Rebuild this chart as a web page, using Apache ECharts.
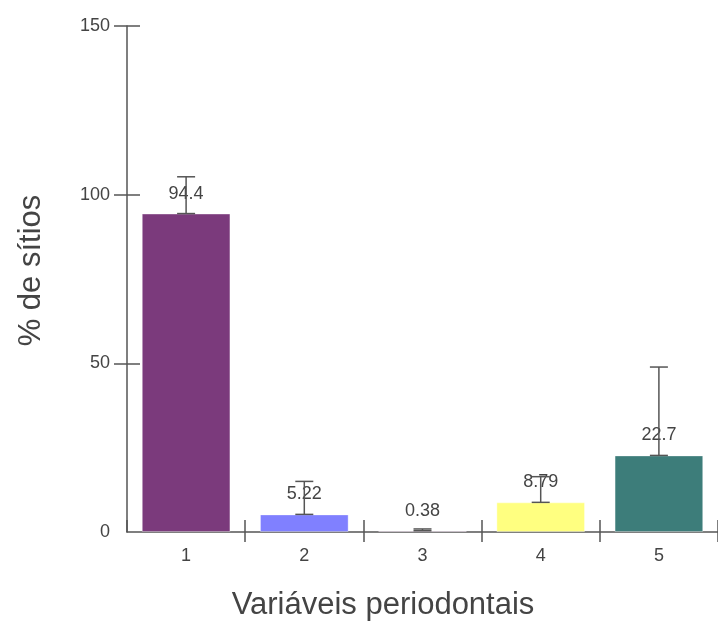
<!DOCTYPE html>
<html>
<head>
<meta charset="utf-8">
<script src="https://cdn.jsdelivr.net/npm/echarts@6/dist/echarts.min.js"></script>
<style>
  html, body { margin: 0; padding: 0; background: #fff; }
  #chart { width: 718px; height: 626px; }
</style>
</head>
<body>
<div id="chart"></div>
<script>
const categories = ['1', '2', '3', '4', '5']
const values = [94.4, 5.22, 0.38, 8.79, 22.7]
const upperErrors = [105.3, 15.0, 0.9, 16.4, 48.9]
const barColors = ['#7b3a7c', '#8080ff', '#c080c0', '#ffff80', '#3d7d7a']
const yTicks = [0, 50, 100, 150]

const FONT = '"Liberation Sans", Arial, sans-serif'
const AXIS = '#555555'
const TEXT = '#444444'

const chart = echarts.init(document.getElementById('chart'))

// ticks cross the axis line in the reference, so each axis is doubled:
// one draws the outer tick half, the other the inner half
const yBase = {
  type: 'value',
  min: yTicks[0],
  max: yTicks[yTicks.length - 1],
  interval: 50,
  splitLine: { show: false }
}
const xBase = {
  type: 'category',
  data: categories,
  boundaryGap: true
}
const tickLine = { color: AXIS, width: 1.5 }

chart.setOption({
  animation: false,
  grid: { left: 127, right: 0, top: 26, bottom: 93 },
  xAxis: [
    {
      ...xBase,
      axisLine: { lineStyle: tickLine },
      axisTick: { show: true, length: 10, lineStyle: tickLine, interval: (i) => i !== 0 },
      axisLabel: { color: TEXT, fontFamily: FONT, fontSize: 18, margin: 15 },
      name: 'Variáveis periodontais',
      nameLocation: 'middle',
      nameGap: 58,
      nameTextStyle: {
        color: TEXT, fontFamily: FONT, fontSize: 31,
        padding: [0, 79, 0, 0]
      }
    },
    {
      ...xBase,
      position: 'bottom',
      axisLine: { show: false },
      axisTick: { show: true, inside: true, length: 12, lineStyle: tickLine },
      axisLabel: { show: false }
    }
  ],
  yAxis: [
    {
      ...yBase,
      axisLine: { show: true, lineStyle: tickLine },
      axisTick: { show: true, length: 13, lineStyle: tickLine, customValues: yTicks.slice(1) },
      axisLabel: { color: TEXT, fontFamily: FONT, fontSize: 18, margin: 17 },
      name: '% de sítios',
      nameLocation: 'middle',
      nameGap: 80,
      nameRotate: 90,
      nameTextStyle: {
        color: TEXT, fontFamily: FONT, fontSize: 31,
        padding: [0, 0, 0, 17]
      }
    },
    {
      ...yBase,
      position: 'left',
      axisLine: { show: false },
      axisTick: { show: true, inside: true, length: 13, lineStyle: tickLine, customValues: yTicks.slice(1) },
      axisLabel: { show: false }
    }
  ],
  series: [
    {
      type: 'bar',
      barWidth: '75%',
      z: 2,
      data: values.map((v, i) => ({
        value: v,
        itemStyle: { color: barColors[i], borderColor: 'rgba(255,255,255,0.35)', borderWidth: 1 }
      })),
      label: {
        show: true,
        position: 'top',
        distance: 11,
        color: TEXT,
        fontFamily: FONT,
        fontSize: 18
      }
    },
    {
      type: 'custom',
      z: 5,
      data: values.map((v, i) => [i, v, upperErrors[i]]),
      renderItem: function (params, api) {
        const lo = api.coord([api.value(0), api.value(1)])
        const hi = api.coord([api.value(0), api.value(2)])
        const hw = 9
        const style = { stroke: AXIS, lineWidth: 1.5 }
        return {
          type: 'group',
          children: [
            { type: 'line', shape: { x1: lo[0], y1: lo[1], x2: hi[0], y2: hi[1] }, style },
            { type: 'line', shape: { x1: hi[0] - hw, y1: hi[1], x2: hi[0] + hw, y2: hi[1] }, style },
            { type: 'line', shape: { x1: lo[0] - hw, y1: lo[1], x2: lo[0] + hw, y2: lo[1] }, style }
          ]
        }
      }
    }
  ]
})
</script>
</body>
</html>
